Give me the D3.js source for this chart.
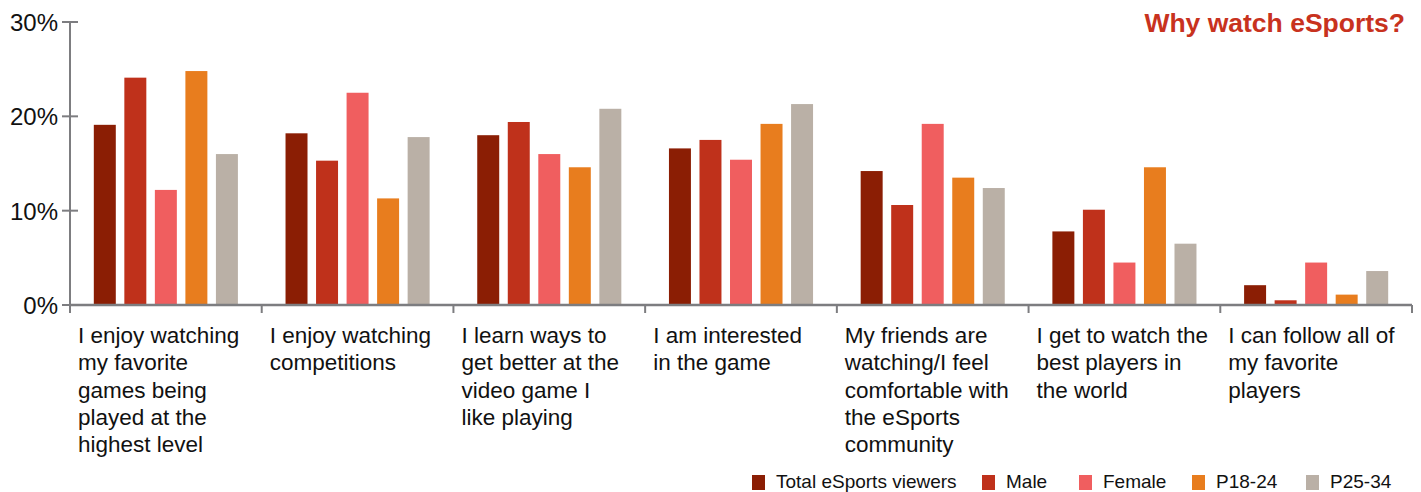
<!DOCTYPE html>
<html>
<head>
<meta charset="utf-8">
<script src="https://cdn.jsdelivr.net/npm/d3@7"></script>
<style>
  html, body { margin: 0; padding: 0; background: #fff; }
  svg { display: block; font-family: "Liberation Sans", Arial, Helvetica, sans-serif; }
</style>
</head>
<body>
<svg id="chart" width="1421" height="492"></svg>
<script>
const categories = [
  ["I enjoy watching", "my favorite", "games being", "played at the", "highest level"],
  ["I enjoy watching", "competitions"],
  ["I learn ways to", "get better at the", "video game I", "like playing"],
  ["I am interested", "in the game"],
  ["My friends are", "watching/I feel", "comfortable with", "the eSports", "community"],
  ["I get to watch the", "best players in", "the world"],
  ["I can follow all of", "my favorite", "players"]
];
const seriesNames = ["Total eSports viewers", "Male", "Female", "P18-24", "P25-34"];
const totalViewers = [19.1, 18.2, 18.0, 16.6, 14.2, 7.8, 2.1];
const male         = [24.1, 15.3, 19.4, 17.5, 10.6, 10.1, 0.5];
const female       = [12.2, 22.5, 16.0, 15.4, 19.2, 4.5, 4.5];
const p18_24       = [24.8, 11.3, 14.6, 19.2, 13.5, 14.6, 1.1];
const p25_34       = [16.0, 17.8, 20.8, 21.3, 12.4, 6.5, 3.6];
const yTicks = [0, 10, 20, 30];
const title = "Why watch eSports?";

const seriesValues = [totalViewers, male, female, p18_24, p25_34];
const colors = ["#8b1e04", "#bf311b", "#f05e5f", "#e87d1e", "#bab0a6"];

const svg = d3.select("#chart");
const mLeft = 70, mRight = 1412, mTop = 22, mBottom = 305;
const axisColor = "#7d7d80";

const x0 = d3.scaleBand().domain(d3.range(categories.length)).range([mLeft, mRight]).padding(0);
const x1 = d3.scaleBand().domain(d3.range(seriesNames.length))
  .range([0, x0.bandwidth()]).paddingInner(0.28).paddingOuter(0.78);
const y = d3.scaleLinear().domain([0, 30]).range([mBottom, mTop]);

// bars
const groups = svg.append("g").selectAll("g")
  .data(categories.map((c, i) => i))
  .join("g")
  .attr("transform", i => `translate(${x0(i)},0)`);
groups.selectAll("rect")
  .data(i => seriesValues.map((s, k) => ({ k, v: s[i] })))
  .join("rect")
  .attr("x", d => x1(d.k))
  .attr("width", x1.bandwidth())
  .attr("y", d => y(d.v))
  .attr("height", d => mBottom - y(d.v))
  .attr("fill", d => colors[d.k]);

// y axis
const yAxis = svg.append("g").attr("transform", `translate(${mLeft},0)`);
yAxis.append("line").attr("x1", 0).attr("x2", 0).attr("y1", y(30)).attr("y2", mBottom + 8)
  .attr("stroke", axisColor).attr("stroke-width", 2);
yAxis.selectAll("line.tick").data(yTicks).join("line").attr("class", "tick")
  .attr("x1", -8).attr("x2", 8).attr("y1", d => y(d)).attr("y2", d => y(d))
  .attr("stroke", axisColor).attr("stroke-width", 2);
yAxis.selectAll("text").data(yTicks).join("text")
  .attr("x", -12).attr("y", d => y(d)).attr("dy", "0.38em")
  .attr("text-anchor", "end").attr("font-size", 24).attr("fill", "#111")
  .text(d => d + "%");

// x axis
const xAxis = svg.append("g");
xAxis.append("line").attr("x1", mLeft).attr("x2", mRight).attr("y1", mBottom).attr("y2", mBottom)
  .attr("stroke", axisColor).attr("stroke-width", 2.5);
const boundaries = d3.range(categories.length + 1).map(i => i < categories.length ? x0(i) : x0(i - 1) + x0.bandwidth());
xAxis.selectAll("line.tick").data(boundaries).join("line").attr("class", "tick")
  .attr("x1", d => d).attr("x2", d => d).attr("y1", mBottom).attr("y2", mBottom + 8)
  .attr("stroke", axisColor).attr("stroke-width", 2);
const labels = xAxis.selectAll("text").data(categories).join("text")
  .attr("x", (d, i) => x0(i) + 8).attr("y", 343)
  .attr("font-size", 22.5).attr("fill", "#111");
labels.selectAll("tspan").data(d => d).join("tspan")
  .attr("x", function () { return this.parentNode.getAttribute("x"); })
  .attr("dy", (d, j) => j === 0 ? 0 : 27.3)
  .text(d => d);

// title
svg.append("text").attr("x", 1405).attr("y", 32).attr("text-anchor", "end")
  .attr("font-size", 26.5).attr("font-weight", "bold").attr("fill", "#c8321e").text(title);

// legend
const legendX = [752, 982, 1079, 1192, 1306];
const legend = svg.append("g").selectAll("g").data(seriesNames).join("g")
  .attr("transform", (d, i) => `translate(${legendX[i]},475)`);
legend.append("rect").attr("width", 13).attr("height", 15).attr("fill", (d, i) => colors[i]);
legend.append("text").attr("x", 24).attr("y", 13).attr("font-size", 19).attr("fill", "#111").text(d => d);
</script>
</body>
</html>
